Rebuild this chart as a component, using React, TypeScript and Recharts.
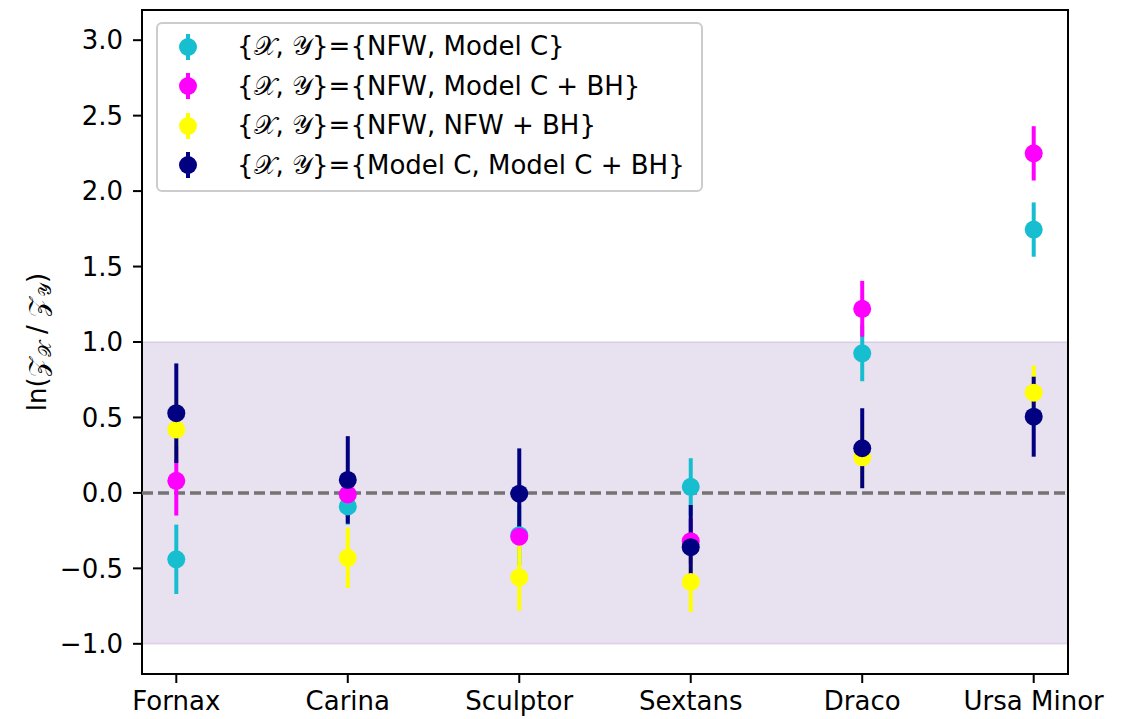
import { ScatterChart, Scatter, XAxis, YAxis, ErrorBar, ReferenceArea, ReferenceLine, Legend } from 'recharts';

// dwarf galaxies on the x axis, one tick each
const galaxies = ['Fornax', 'Carina', 'Sculptor', 'Sextans', 'Draco', 'Ursa Minor'];
const galaxyTicks = [0, 1, 2, 3, 4, 5];
const yTicks = [-1.0, -0.5, 0.0, 0.5, 1.0, 1.5, 2.0, 2.5, 3.0];

// ln Bayes factors, with symmetric 1-sigma errors
const nfwVsModelC = [-0.44, -0.09, -0.28, 0.04, 0.925, 1.745];
const nfwVsModelCErr = [0.23, 0.12, 0.2, 0.19, 0.185, 0.18];

const nfwVsModelCBH = [0.08, -0.01, -0.29, -0.32, 1.22, 2.25];
const nfwVsModelCBHErr = [0.23, 0.15, 0.05, 0.15, 0.185, 0.18];

const nfwVsNfwBH = [0.42, -0.43, -0.56, -0.59, 0.236, 0.664];
const nfwVsNfwBHErr = [0.2, 0.2, 0.22, 0.2, 0.2, 0.18];

const modelCVsModelCBH = [0.528, 0.086, -0.005, -0.36, 0.296, 0.505];
const modelCVsModelCBHErr = [0.33, 0.29, 0.3, 0.28, 0.265, 0.265];

const series = [
  { key: 'c', label: '{NFW, Model C}', color: '#17becf', values: nfwVsModelC, errors: nfwVsModelCErr },
  { key: 'cbh', label: '{NFW, Model C + BH}', color: '#ff00ff', values: nfwVsModelCBH, errors: nfwVsModelCBHErr },
  { key: 'nbh', label: '{NFW, NFW + BH}', color: '#ffff00', values: nfwVsNfwBH, errors: nfwVsNfwBHErr },
  { key: 'mc', label: '{Model C, Model C + BH}', color: '#000080', values: modelCVsModelCBH, errors: modelCVsModelCBHErr },
];

const FONT = '"DejaVu Sans", sans-serif';
const MATH_FONT = '"DejaVu Serif", "DejaVu Sans", serif';
const FS = 26;

const toPoints = (values: number[], errors: number[]) =>
  values.map((v, i) => ({ x: i, y: v, err: errors[i] }));

const fmtY = (v: number) => (v < 0 ? '\u2212' + Math.abs(v).toFixed(1) : v.toFixed(1));

function YTitle(props: any) {
  const vb = props.viewBox || { x: 0, y: 10, width: 142, height: 664 };
  const cx = vb.x + 46;
  const cy = vb.y + vb.height / 2;
  return (
    <text transform={`translate(${cx}, ${cy}) rotate(-90)`} textAnchor="middle" fontSize={FS} fill="#000" fontFamily={FONT}>
      <tspan>ln(</tspan>
      <tspan fontFamily={MATH_FONT}>𝒵</tspan>
      <tspan fontFamily={MATH_FONT} fontSize={18} dy={5}>𝒳</tspan>
      <tspan dy={-5}> / </tspan>
      <tspan fontFamily={MATH_FONT}>𝒵</tspan>
      <tspan fontFamily={MATH_FONT} fontSize={18} dy={5}>𝒴</tspan>
      <tspan dy={-5}>)</tspan>
    </text>
  );
}

function LegendBox() {
  return (
    <div
      style={{
        boxSizing: 'border-box',
        width: 547,
        height: 170,
        border: '2px solid #cccccc',
        borderRadius: 6,
        background: 'rgba(255,255,255,0.8)',
        padding: '3px 0 0 20px',
        fontFamily: FONT,
        fontSize: FS,
        color: '#000',
      }}
    >
      {series.map((s) => (
        <div key={s.key} style={{ display: 'flex', alignItems: 'center', height: 39.5 }}>
          <svg width={20} height={30} style={{ display: 'block' }}>
            <line x1={10} y1={2} x2={10} y2={28} stroke={s.color} strokeWidth={4} />
            <circle cx={10} cy={15} r={9} fill={s.color} />
          </svg>
          <span style={{ marginLeft: 39, whiteSpace: 'nowrap' }}>
            {'{'}
            <span style={{ fontFamily: MATH_FONT }}>𝒳</span>
            {', '}
            <span style={{ fontFamily: MATH_FONT }}>𝒴</span>
            {'}='}
            {s.label}
          </span>
        </div>
      ))}
    </div>
  );
}

export default function App() {
  return (
    <div style={{ position: 'absolute', left: 0, top: 0, width: 1129, height: 719, background: '#fff', fontFamily: FONT }}>
      <ScatterChart width={1129} height={719} margin={{ top: 10, right: 61, bottom: 0, left: 0 }}>
        <ReferenceArea y1={-1} y2={1} fill="#663399" fillOpacity={0.15} stroke="#663399" strokeOpacity={0.12} strokeWidth={2} />
        <ReferenceLine y={0} stroke="#737373" strokeWidth={3.5} strokeDasharray="11 5" />
        <XAxis
          type="number"
          dataKey="x"
          domain={[-0.2, 5.2]}
          ticks={galaxyTicks}
          tickFormatter={(i: number) => galaxies[i] ?? ''}
          allowDataOverflow
          height={45}
          axisLine={false}
          tickLine={{ stroke: '#000', strokeWidth: 2 }}
          tickSize={9}
          tickMargin={9}
          tick={{ fill: '#000', fontSize: FS, fontFamily: FONT }}
        />
        <YAxis
          type="number"
          dataKey="y"
          domain={[-1.2, 3.2]}
          ticks={yTicks}
          tickFormatter={fmtY}
          allowDataOverflow
          width={142}
          axisLine={false}
          tickLine={{ stroke: '#000', strokeWidth: 2 }}
          tickSize={9}
          tickMargin={10}
          tick={{ fill: '#000', fontSize: FS, fontFamily: FONT }}
          label={{ content: YTitle }}
        />
        {/* error bars first, for every series, then all markers on top (matplotlib order) */}
        {series.map((s) => (
          <Scatter
            key={'bar-' + s.key}
            data={toPoints(s.values, s.errors)}
            isAnimationActive={false}
            legendType="none"
            shape={() => <g />}
          >
            <ErrorBar dataKey="err" direction="y" width={0} stroke={s.color} strokeWidth={4} isAnimationActive={false} />
          </Scatter>
        ))}
        {series.map((s) => (
          <Scatter
            key={'pt-' + s.key}
            data={toPoints(s.values, s.errors)}
            isAnimationActive={false}
            fill={s.color}
            shape={(p: any) => <circle cx={p.cx} cy={p.cy} r={9} fill={s.color} />}
          />
        ))}
        <ReferenceArea x1={-0.2} x2={5.2} y1={-1.2} y2={3.2} fill="none" stroke="#000" strokeWidth={2} />
        <Legend
          content={() => <LegendBox />}
          layout="vertical"
          align="center"
          verticalAlign="middle"
          wrapperStyle={{ left: 156, top: 22, width: 547, height: 170 }}
        />
      </ScatterChart>
    </div>
  );
}
